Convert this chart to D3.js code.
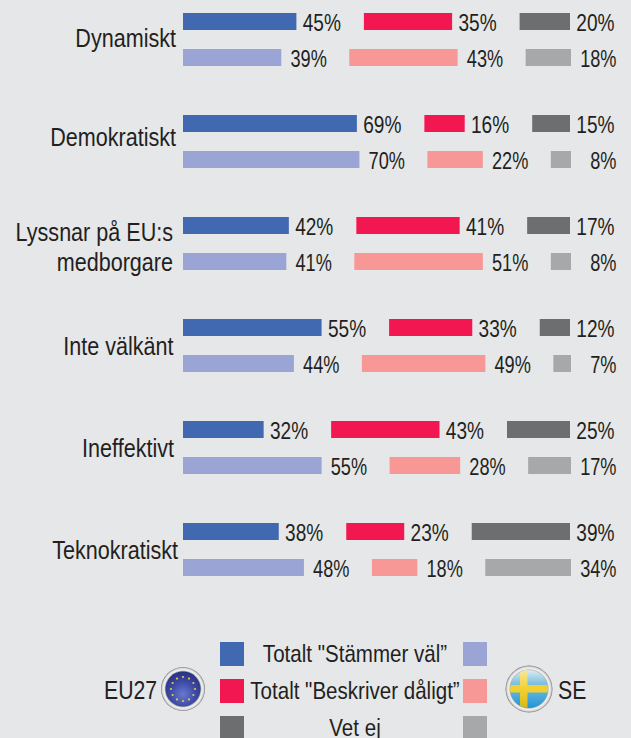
<!DOCTYPE html>
<html><head><meta charset="utf-8">
<style>html,body{margin:0;padding:0;background:#e6e7e9;overflow:hidden}
text{font-family:"Liberation Sans",Arial,sans-serif;fill:#231f20}</style>
<script src="https://cdn.jsdelivr.net/npm/d3@7"></script></head><body>
<svg id="c" width="631" height="738"></svg>
<script>
const categories=[["Dynamiskt"],["Demokratiskt"],["Lyssnar på EU:s","medborgare"],["Inte välkänt"],["Ineffektivt"],["Teknokratiskt"]];
const eu27=[[45,35,20],[69,16,15],[42,41,17],[55,33,12],[32,43,25],[38,23,39]];
const se=[[39,43,18],[70,22,8],[41,51,8],[44,49,7],[55,28,17],[48,18,34]];
const euColors=["#4169b2","#f21651","#6d6e70"];
const seColors=["#9aa5d5","#f89896","#a7a8aa"];
const legendLabels=['Totalt "Stämmer väl”','Totalt "Beskriver dåligt”','Vet ej'];

const svg=d3.select("#c");
svg.append("rect").attr("width",631).attr("height",738).attr("fill","#e6e7e9");
const x=d3.scaleLinear().domain([0,100]).range([0,252]);
const y=d3.scaleBand().domain(d3.range(6)).range([13,625]);
const text=(s,px,py,anchor,fs,sx)=>svg.append("text").attr("transform",`translate(${px},${py}) scale(${sx},1)`).attr("text-anchor",anchor).attr("font-size",fs).text(s);
function row(vals,colors,top,gap,lab,sx){
  let cum=0;
  vals.forEach((v,i)=>{
    const x0=183+x(cum)+i*gap;
    svg.append("rect").attr("x",x0).attr("y",top).attr("width",x(v)).attr("height",17).attr("fill",colors[i]);
    text(v+"%",x0+x(v)+lab,top+17.5,"end",23,sx);
    cum+=v;
  });
}
const catLayout=[[176,47],[176,146],[173,241],[173.5,355],[174,457],[178,559]];
categories.forEach((c,i)=>{
  const t=y(i);
  row(eu27[i],euColors,t,67.5,44.5,.83);
  row(se[i],seColors,t+36,68,45.5,.79);
  text(c[0],catLayout[i][0],catLayout[i][1],"end",26,.83);
  if(c[1]) text(c[1],catLayout[i][0],catLayout[i][1]+30,"end",26,.83);
});
// legend
const ly=[642,679,716];
ly.forEach((v,i)=>{
  svg.append("rect").attr("x",220).attr("y",v).attr("width",24).attr("height",24).attr("fill",euColors[i]);
  svg.append("rect").attr("x",463).attr("y",v).attr("width",24).attr("height",24).attr("fill",seColors[i]);
  text(legendLabels[i],355,v+20,"middle",24,.857);
});
text("EU27",104,699,"start",25,.85);
text("SE",558,699,"start",25,.85);
// badges
const defs=svg.append("defs");
const g1=defs.append("radialGradient").attr("id","ring");
[[0,"#8a8c90"],[.78,"#8a8c90"],[.86,"#f4f4f4"],[.94,"#d8d8d8"],[1,"#77787a"]].forEach(s=>g1.append("stop").attr("offset",s[0]).attr("stop-color",s[1]));
const g2=defs.append("radialGradient").attr("id","eu").attr("cy",.65).attr("r",.6);
[[0,"#6a78d0"],[.55,"#3f4ea8"],[1,"#2a3488"]].forEach(s=>g2.append("stop").attr("offset",s[0]).attr("stop-color",s[1]));
const g3=defs.append("linearGradient").attr("id","sky").attr("x2",0).attr("y2",1);
[[0,"#dfeaf0"],[.35,"#7fc0e0"],[1,"#1f96d4"]].forEach(s=>g3.append("stop").attr("offset",s[0]).attr("stop-color",s[1]));
const g4=defs.append("linearGradient").attr("id","gold").attr("x2",0).attr("y2",1);
[[0,"#f4e8a0"],[.5,"#f2d030"],[1,"#d8b818"]].forEach(s=>g4.append("stop").attr("offset",s[0]).attr("stop-color",s[1]));
defs.append("clipPath").attr("id","cp").append("circle").attr("cx",529).attr("cy",689).attr("r",19);
svg.append("circle").attr("cx",183).attr("cy",689).attr("r",22).attr("fill","url(#ring)");
svg.append("circle").attr("cx",183).attr("cy",689).attr("r",17.5).attr("fill","url(#eu)");
d3.range(12).forEach(i=>{const a=i/12*2*Math.PI;
  svg.append("circle").attr("cx",183+12*Math.cos(a)).attr("cy",689+12*Math.sin(a)).attr("r",1.1).attr("fill","#e8c840");});
svg.append("circle").attr("cx",529).attr("cy",689).attr("r",23.5).attr("fill","url(#ring)");
const f=svg.append("g").attr("clip-path","url(#cp)");
f.append("rect").attr("x",510).attr("y",670).attr("width",38).attr("height",38).attr("fill","url(#sky)");
f.append("rect").attr("x",510).attr("y",685).attr("width",38).attr("height",7.5).attr("fill","#f0d030");
f.append("rect").attr("x",520).attr("y",670).attr("width",7.5).attr("height",38).attr("fill","url(#gold)");
</script></body></html>
